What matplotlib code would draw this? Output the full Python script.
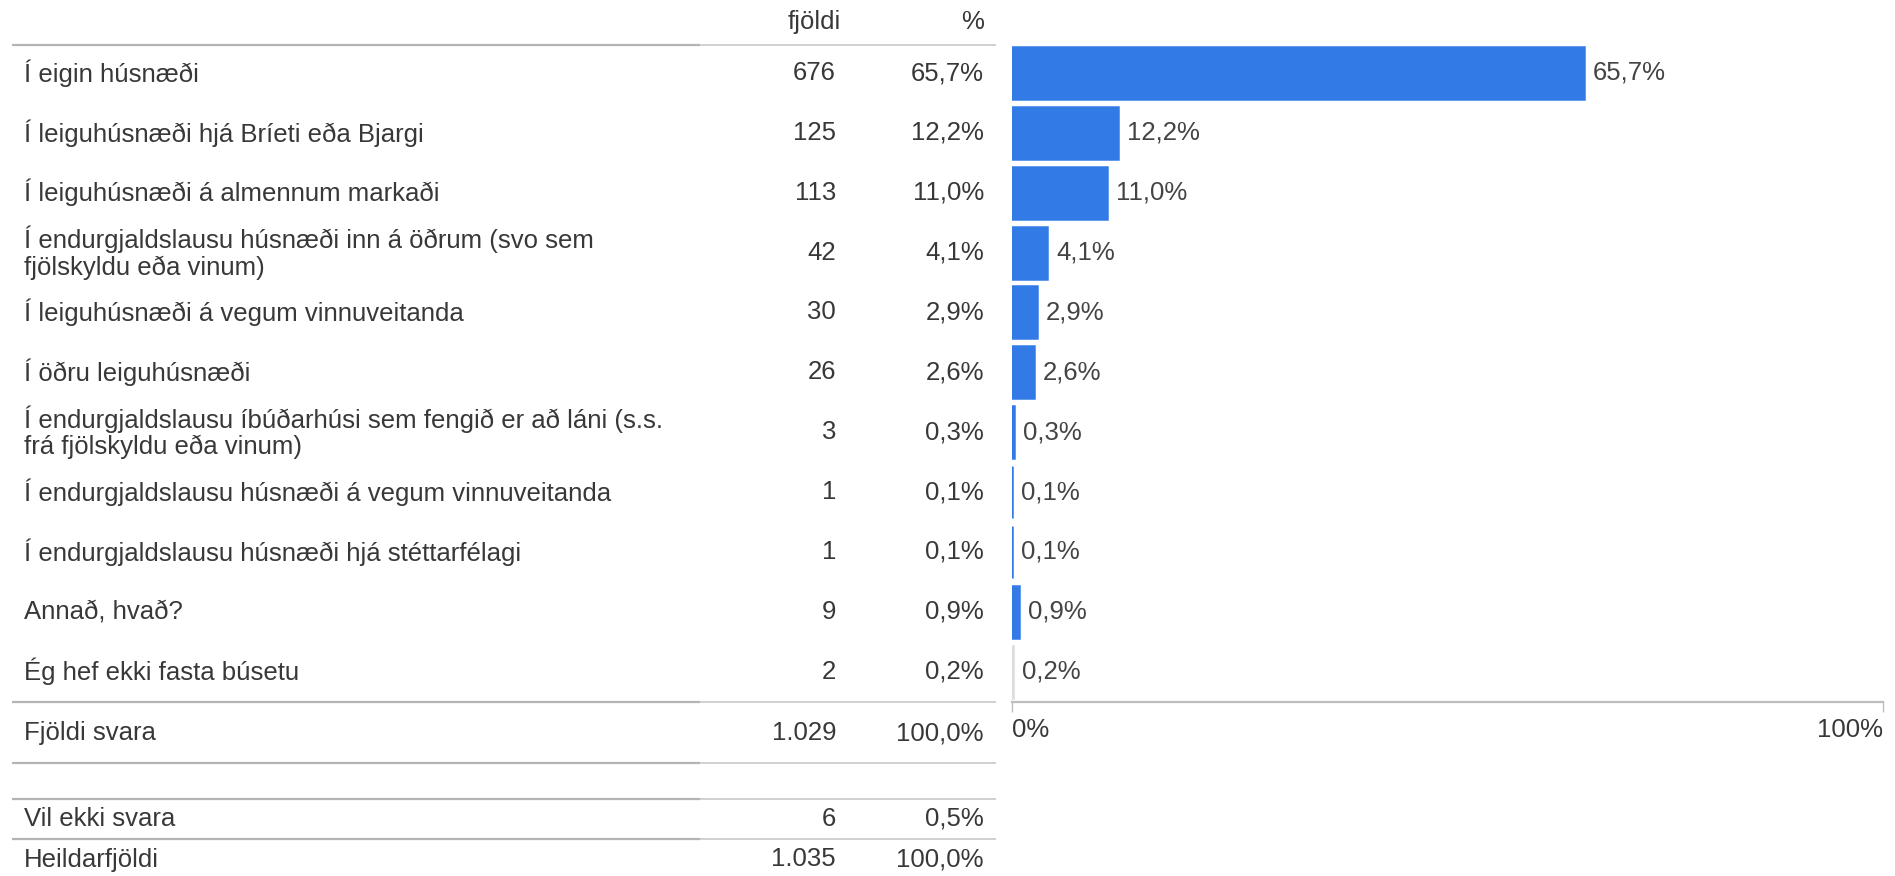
import matplotlib.pyplot as plt

plt.rcParams['font.family'] = ['Liberation Sans', 'DejaVu Sans']

# Data
categories = [
    "Í eigin húsnæði",
    "Í leiguhúsnæði hjá Bríeti eða Bjargi",
    "Í leiguhúsnæði á almennum markaði",
    "Í endurgjaldslausu húsnæði inn á öðrum (svo sem\nfjölskyldu eða vinum)",
    "Í leiguhúsnæði á vegum vinnuveitanda",
    "Í öðru leiguhúsnæði",
    "Í endurgjaldslausu íbúðarhúsi sem fengið er að láni (s.s.\nfrá fjölskyldu eða vinum)",
    "Í endurgjaldslausu húsnæði á vegum vinnuveitanda",
    "Í endurgjaldslausu húsnæði hjá stéttarfélagi",
    "Annað, hvað?",
    "Ég hef ekki fasta búsetu",
]
counts = [676, 125, 113, 42, 30, 26, 3, 1, 1, 9, 2]
percents = [65.7, 12.2, 11.0, 4.1, 2.9, 2.6, 0.3, 0.1, 0.1, 0.9, 0.2]

footer_labels = ["Fjöldi svara", "Vil ekki svara", "Heildarfjöldi"]
footer_counts = [1029, 6, 1035]
footer_percents = [100.0, 0.5, 100.0]


def fmt_count(n):
    return "{:,}".format(n).replace(",", ".")


def fmt_pct(p):
    return "{:.1f}%".format(p).replace(".", ",")


W, H = 1895, 876
fig = plt.figure(figsize=(W / 100, H / 100), dpi=100)

txt = '#383838'
fs = 18.5
row0, step = 73, 59.87

# table layer in pixel coordinates
tab = fig.add_axes([0, 0, 1, 1])
tab.set_xlim(0, W)
tab.set_ylim(H, 0)
tab.axis('off')

tab.text(841, 22, "fjöldi", ha='right', va='center', fontsize=fs, color=txt)
tab.text(984, 22, "%", ha='right', va='center', fontsize=fs, color=txt)


def hline(y):
    tab.plot([12, 700], [y, y], color='#b4b4b4', lw=1.6, solid_capstyle='butt')
    tab.plot([700, 996], [y, y], color='#c8c8c8', lw=1.2, solid_capstyle='butt')


hline(44.7)
for i, (lab, c, p) in enumerate(zip(categories, counts, percents)):
    y = row0 + i * step
    tab.text(24, y, lab, ha='left', va='center', fontsize=fs, color=txt,
             linespacing=1.1)
    tab.text(836, y, fmt_count(c), ha='right', va='center', fontsize=fs, color=txt)
    tab.text(984, y, fmt_pct(p), ha='right', va='center', fontsize=fs, color=txt)

hline(701.6)
footer_y = [733, 818.5, 859.5]
for lab, c, p, y in zip(footer_labels, footer_counts, footer_percents, footer_y):
    tab.text(24, y, lab, ha='left', va='center', fontsize=fs, color=txt)
    tab.text(836, y, fmt_count(c), ha='right', va='center', fontsize=fs, color=txt)
    tab.text(984, y, fmt_pct(p), ha='right', va='center', fontsize=fs, color=txt)
hline(763)
hline(799)
hline(839)

# bar chart
x0, x1 = 1011.5, 1883
top, bot = 43, 701.6
ax = fig.add_axes([x0 / W, (H - bot) / H, (x1 - x0) / W, (bot - top) / H])
n = len(categories)
colors = ['#327be6'] * (n - 1) + ['#dcdcdc']
ypos = list(range(n))
ax.barh(ypos, percents, height=0.87, color=colors, edgecolor=colors,
        linewidth=1.8)
ax.set_xlim(0, 100)
ax.set_ylim(n - 0.5, -0.5)
for y, p in zip(ypos, percents):
    ax.annotate(fmt_pct(p), (p, y), xytext=(9, 0), textcoords='offset pixels',
                ha='left', va='center', fontsize=fs, color='#444444')

for s in ['top', 'right', 'left']:
    ax.spines[s].set_visible(False)
ax.spines['bottom'].set_color('#bdbdbd')
ax.spines['bottom'].set_linewidth(1.6)
ax.set_yticks([])
ax.set_xticks([0, 100], ["0%", "100%"])
ax.tick_params(axis='x', length=7, width=1, color='#bdbdbd', labelsize=fs,
               labelcolor=txt, pad=5)
lbls = ax.get_xticklabels()
lbls[0].set_ha('left')
lbls[1].set_ha('right')

fig.savefig("out.png", dpi=100)
